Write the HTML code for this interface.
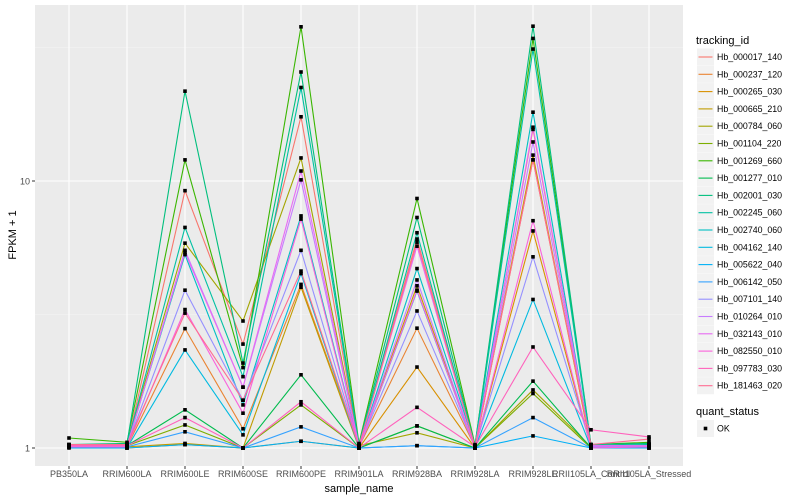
<!DOCTYPE html>
<html><head><meta charset="utf-8"><style>
body{margin:0;background:#fff;}
svg{display:block;font-family:"Liberation Sans",sans-serif;}
</style></head><body>
<svg id="chart" width="800" height="500">
<rect x="35" y="5" width="648" height="461" fill="#EBEBEB"/>
<g id="grid"></g><g id="lines"></g><g id="pts"></g><g id="axes"></g><g id="legend"></g>
</svg>
<script>
const categories=["PB350LA","RRIM600LA","RRIM600LE","RRIM600SE","RRIM600PE","RRIM901LA","RRIM928BA","RRIM928LA","RRIM928LE","RRII105LA_Control","RRII105LA_Stressed"];
const seriesNames=["Hb_000017_140","Hb_000237_120","Hb_000265_030","Hb_000665_210","Hb_000784_060","Hb_001104_220","Hb_001269_660","Hb_001277_010","Hb_002001_030","Hb_002245_060","Hb_002740_060","Hb_004162_140","Hb_005622_040","Hb_006142_050","Hb_007101_140","Hb_010264_010","Hb_032143_010","Hb_082550_010","Hb_097783_030","Hb_181463_020"];
const colors=["#F8766D","#EA8331","#D89000","#C09B00","#A3A500","#7CAE00","#39B600","#00BB4E","#00BF7D","#00C1A3","#00BFC4","#00BAE0","#00B0F6","#35A2FF","#9590FF","#C77CFF","#E76BF3","#FA62DB","#FF62BC","#FF6C91"];
const s0=[1.03,1.02,9.2,2.45,17.4,1.02,6.06,1.02,15.6,1.02,1.03];
const s1=[1.02,1.01,2.8,1.18,4.1,1.01,2.81,1.01,12.0,1.01,1.02];
const s2=[1.01,1.0,1.03,1.0,1.06,1.0,2.01,1.0,6.5,1.0,1.0];
const s3=[1.02,1.01,1.04,1.0,4.0,1.0,4.05,1.0,12.5,1.0,1.01];
const s4=[1.02,1.03,5.85,2.99,12.2,1.02,1.14,1.0,1.65,1.01,1.02];
const s5=[1.02,1.02,1.22,1.0,1.45,1.0,1.21,1.0,1.6,1.0,1.03];
const s6=[1.09,1.05,12.0,2.0,37.8,1.04,8.6,1.03,34.2,1.03,1.05];
const s7=[1.02,1.02,1.39,1.0,1.88,1.0,1.21,1.0,1.78,1.0,1.02];
const s8=[1.03,1.04,21.7,2.08,25.6,1.03,7.3,1.02,38,1.03,1.04];
const s9=[1.02,1.03,6.7,1.85,22.4,1.02,6.4,1.01,31.2,1.02,1.03];
const s10=[1.01,1.02,5.3,1.45,7.4,1.01,4.7,1.02,18.1,1.01,1.02];
const s11=[1.01,1.0,2.33,1.12,4.5,1.0,3.87,1.0,3.6,1.0,1.0];
const s12=[1.0,1.0,1.03,1.0,1.06,1.0,1.02,1.0,1.11,1.0,1.0];
const s13=[1.01,1.01,1.15,1.0,1.2,1.0,1.02,1.0,1.3,1.0,1.01];
const s14=[1.02,1.02,3.9,1.51,5.5,1.01,3.26,1.01,5.2,1.02,1.02];
const s15=[1.01,1.01,5.5,1.69,10.1,1.01,4.26,1.0,14.0,1.01,1.01];
const s16=[1.02,1.02,5.4,1.69,10.9,1.02,5.7,1.01,15.9,1.02,1.02];
const s17=[1.01,1.01,3.3,1.35,7.2,1.0,3.9,1.0,7.1,1.0,1.01];
const s18=[1.02,1.02,1.30,1.0,1.49,1.0,1.42,1.01,2.39,1.17,1.1];
const s19=[1.03,1.03,3.2,1.51,4.6,1.01,5.9,1.01,12.0,1.03,1.08];
const series=[s0,s1,s2,s3,s4,s5,s6,s7,s8,s9,s10,s11,s12,s13,s14,s15,s16,s17,s18,s19];
const yTicks=[1,10];
const yMinor=[Math.sqrt(10),Math.sqrt(1000)];

const NS="http://www.w3.org/2000/svg";
function mk(tag,attrs,parent){const e=document.createElementNS(NS,tag);for(const k in attrs)e.setAttribute(k,attrs[k]);parent.appendChild(e);return e;}
const xS=i=>69+i*58;
const yS=v=>448-Math.log10(v)*267;
const grid=document.getElementById('grid'),lines=document.getElementById('lines'),pts=document.getElementById('pts'),axes=document.getElementById('axes'),legend=document.getElementById('legend');

yMinor.forEach(v=>{const l=mk('line',{x1:35,x2:683,y1:yS(v),y2:yS(v),stroke:'#F5F5F5','stroke-width':0.6},grid);

});
yTicks.forEach(v=>{const l=mk('line',{x1:35,x2:683,y1:yS(v),y2:yS(v),stroke:'#fff','stroke-width':1.1},grid);


mk('line',{x1:32,x2:35,y1:yS(v),y2:yS(v),stroke:'#333'},axes);
const t=mk('text',{x:30,y:yS(v)+3.5,'text-anchor':'end','font-size':9,fill:'#4D4D4D'},axes);t.textContent=v;

});
categories.forEach((c,i)=>{const l=mk('line',{x1:xS(i),x2:xS(i),y1:5,y2:466,stroke:'#fff','stroke-width':1.1},grid);


mk('line',{x1:xS(i),x2:xS(i),y1:466,y2:469,stroke:'#333'},axes);
const t=mk('text',{x:xS(i),y:477,'text-anchor':'middle','font-size':9,fill:'#4D4D4D'},axes);t.textContent=c;

});
let t=mk('text',{x:359,y:492,'text-anchor':'middle','font-size':11,fill:'#000'},axes);t.textContent='sample_name';


t=mk('text',{x:16,y:235,'text-anchor':'middle','font-size':11,fill:'#000',transform:'rotate(-90 16 235)'},axes);t.textContent='FPKM + 1';



series.forEach((s,k)=>{const p=mk('polyline',{points:s.map((v,i)=>xS(i)+','+yS(v)).join(' '),fill:'none',stroke:colors[k],'stroke-width':1.1},lines);


s.forEach((v,i)=>{const r=mk('rect',{x:xS(i)-1.8,y:yS(v)-1.8,width:3.6,height:3.6,fill:'#000'},pts);

});});

t=mk('text',{x:696,y:44,'font-size':11,fill:'#000'},legend);t.textContent='tracking_id';


seriesNames.forEach((n,k)=>{const y=57+k*17.3;
const g=mk('g',{},legend);


mk('rect',{x:697,y:y-8.5,width:17,height:17,fill:'#F2F2F2'},g);
mk('line',{x1:698.5,x2:712.5,y1:y,y2:y,stroke:colors[k],'stroke-width':1.1},g);
const tt=mk('text',{x:717,y:y+3,'font-size':8.8,fill:'#000'},g);tt.textContent=n;});
t=mk('text',{x:696,y:415,'font-size':11,fill:'#000'},legend);t.textContent='quant_status';


const g2=mk('g',{},legend);


mk('rect',{x:697,y:420,width:17,height:17,fill:'#F2F2F2'},g2);
mk('rect',{x:703.7,y:426.7,width:3.6,height:3.6,fill:'#000'},g2);
const to=mk('text',{x:717,y:431.5,'font-size':8.8,fill:'#000'},g2);to.textContent='OK';
</script>
</body></html>
